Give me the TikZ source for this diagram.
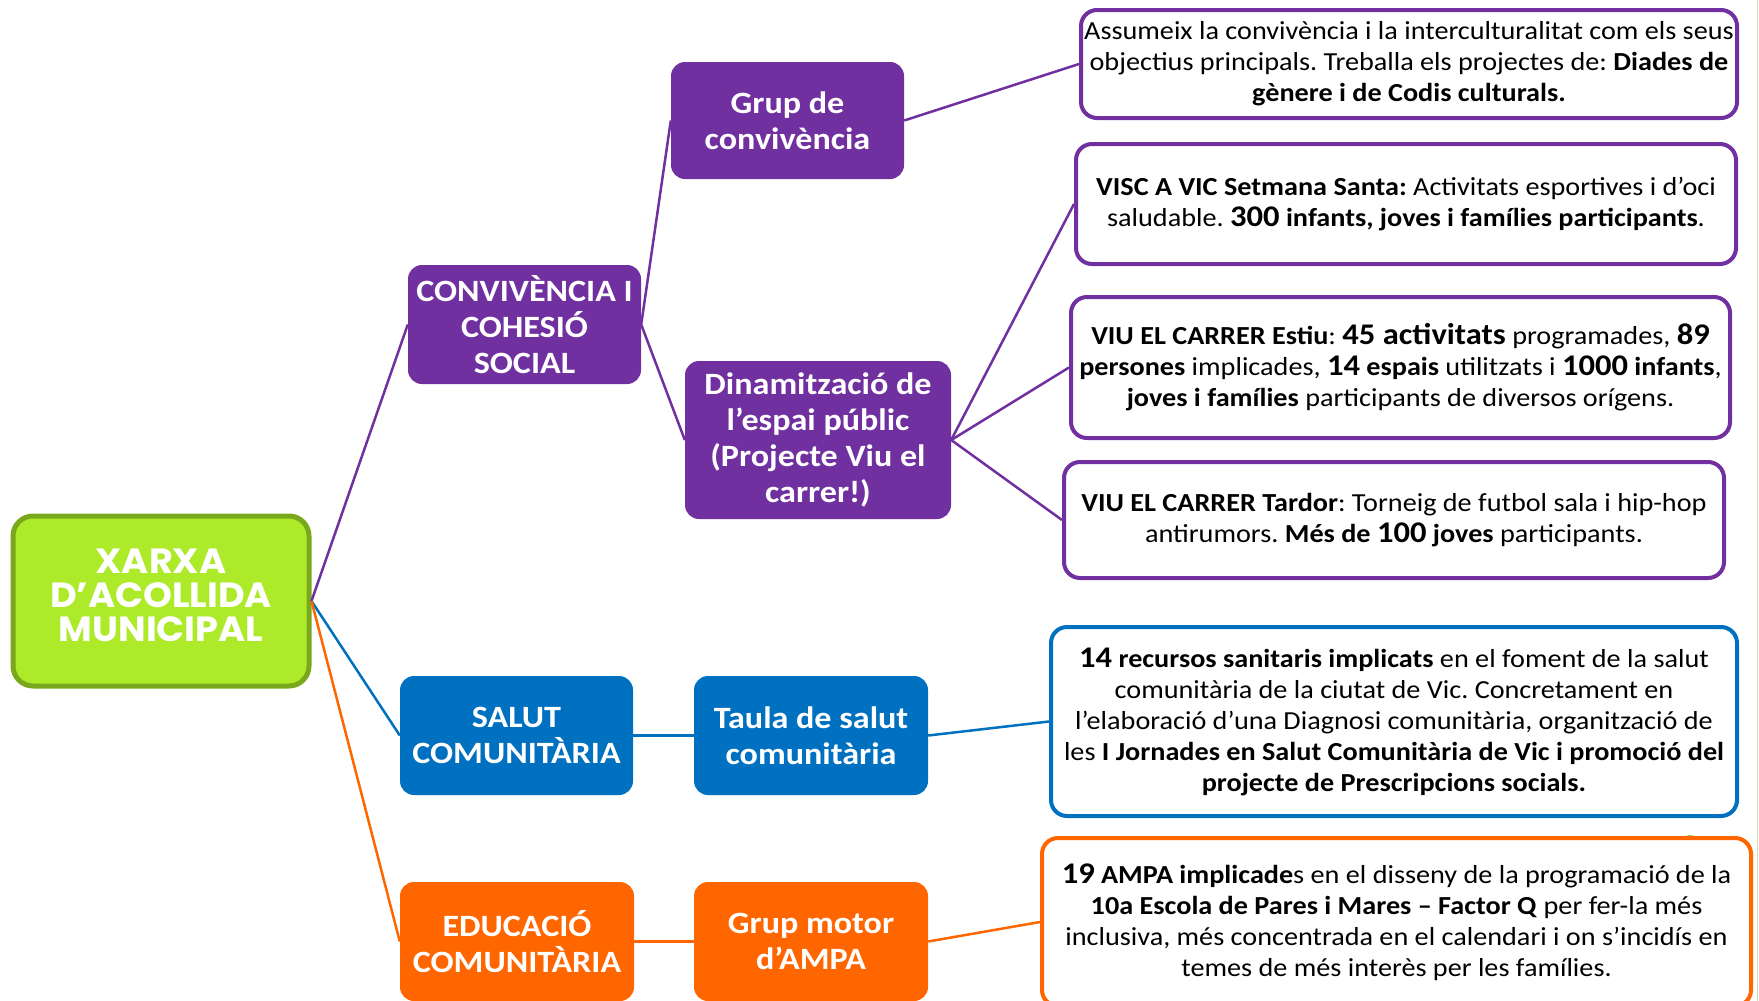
\documentclass[tikz,border=0pt]{standalone}
\usepackage{fontspec}
\setmainfont{Carlito}[FakeStretch=1.085]
\newfontfamily\catfont{Carlito}[FakeStretch=1.1]
\newfontfamily\rootfont{Poppins}[FakeStretch=1.05]
\definecolor{cpurple}{HTML}{7030A0}
\definecolor{cblue}{HTML}{0070C0}
\definecolor{corange}{HTML}{FF6600}
\definecolor{cgreen}{HTML}{ADEA2A}
\definecolor{cgreendark}{HTML}{7AA81C}
\definecolor{cpale}{HTML}{C8E2A8}
\definecolor{cbump}{HTML}{9ACD32}
\newcommand\bignum[1]{{\fontsize{30}{31}\selectfont #1}}
\tikzset{
  catbox/.style={rounded corners=14pt, fill=#1, text=white, align=center,
    inner sep=0pt, font=\catfont\bfseries\fontsize{31}{36}\selectfont},
  infobox/.style={draw=#1, line width=4pt, rounded corners=16pt, fill=white,
    text=black, align=center, inner sep=0pt, font=\fontsize{26}{31}\selectfont},
  link/.style={draw=#1, line width=2.5pt},
}
\begin{document}
\frenchspacing
\begin{tikzpicture}[x=1pt,y=-1pt]
\useasboundingbox (0,0) rectangle (1759,1001);
\clip (0,0) rectangle (1759,1001);
% stray background decorations
\draw[cpale, line width=1.5pt] (1757.5,0) -- (1757.5,1001);
\fill[cbump] (1690,846) circle (11);
% root
\node[rounded corners=20pt, fill=cgreen, draw=cgreendark, line width=5pt,
  minimum width=296pt, minimum height=170pt, inner sep=0pt, text=white, align=center]
  (root) at (161,601) {};
\node[text=white, align=center, inner sep=0pt,
  font=\rootfont\bfseries\fontsize{35}{34}\selectfont] (roottext) at (161,595)
  {XARXA\\D’ACOLLIDA\\MUNICIPAL};
% categories
\node[catbox=cpurple, minimum width=233pt, minimum height=119pt] (conv) at (524.5,324.5)
  {CONVIVÈNCIA I\\COHESIÓ\\SOCIAL};
\node[catbox=cpurple, minimum width=233pt, minimum height=117pt] (grup) at (787.5,120.5)
  {Grup de\\convivència};
\node[catbox=cpurple, minimum width=266pt, minimum height=158pt] (dina) at (818,440)
  {Dinamització de\\l’espai públic\\(Projecte Viu el\\carrer!)};
\node[catbox=cblue, minimum width=233pt, minimum height=119pt] (salut) at (516.5,735.5)
  {SALUT\\COMUNITÀRIA};
\node[catbox=cblue, minimum width=234pt, minimum height=119pt] (taula) at (811,735.5)
  {Taula de salut\\comunitària};
\node[catbox=corange, minimum width=234pt, minimum height=119pt] (educ) at (517,941.5)
  {EDUCACIÓ\\COMUNITÀRIA};
\node[catbox=corange, minimum width=234pt, minimum height=119pt] (motor) at (811,941.5)
  {Grup motor\\d’AMPA};
% info boxes
\node[infobox=cpurple, minimum width=656pt, minimum height=108pt] (ia) at (1409,64)
  {Assumeix la convivència i la interculturalitat com els seus\\
   objectius principals. Treballa els projectes de: \textbf{Diades de}\\
   \textbf{gènere i de Codis culturals.}};
\node[infobox=cpurple, minimum width=660pt, minimum height=120pt] (ib) at (1406,204)
  {\textbf{VISC A VIC Setmana Santa:} Activitats esportives i d’oci\\
   saludable. \textbf{\bignum{300} infants, joves i famílies participants}.};
\node[infobox=cpurple, minimum width=659pt, minimum height=141pt] (ic) at (1400.5,367.5)
  {\textbf{VIU EL CARRER Estiu}: \textbf{\bignum{45 activitats}} programades, \textbf{\bignum{89}}\\
   \textbf{persones} implicades, \textbf{\bignum{14} espais} utilitzats i \textbf{\bignum{1000} infants},\\
   \textbf{joves i famílies} participants de diversos orígens.};
\node[infobox=cpurple, minimum width=660pt, minimum height=116pt] (id) at (1394,520)
  {\textbf{VIU EL CARRER Tardor}: Torneig de futbol sala i hip-hop\\
   antirumors. \textbf{Més de \bignum{100} joves} participants.};
\node[infobox=cblue, minimum width=686pt, minimum height=189pt] (ie) at (1394,721.5)
  {\textbf{\bignum{14} recursos sanitaris implicats} en el foment de la salut\\
   comunitària de la ciutat de Vic. Concretament en\\
   l’elaboració d’una Diagnosi comunitària, organització de\\
   les \textbf{I Jornades en Salut Comunitària de Vic i promoció del}\\
   \textbf{projecte de Prescripcions socials.}};
\node[infobox=corange, minimum width=709pt, minimum height=168pt] (if) at (1396.5,922)
  {\textbf{\bignum{19} AMPA implicade}s en el disseny de la programació de la\\
   \textbf{10a Escola de Pares i Mares – Factor Q} per fer-la més\\
   inclusiva, més concentrada en el calendari i on s’incidís en\\
   temes de més interès per les famílies.};
% connectors
\draw[link=cpurple] (root.east) -- (conv.west);
\draw[link=cblue] (root.east) -- (salut.west);
\draw[link=corange] (root.east) -- (educ.west);
\draw[link=cpurple] (conv.east) -- (grup.west);
\draw[link=cpurple] (conv.east) -- (dina.west);
\draw[link=cpurple] (grup.east) -- (ia.west);
\draw[link=cpurple] (dina.east) -- (ib.west);
\draw[link=cpurple] (dina.east) -- (ic.west);
\draw[link=cpurple] (dina.east) -- (id.west);
\draw[link=cblue] (salut.east) -- (taula.west);
\draw[link=cblue] (taula.east) -- (ie.west);
\draw[link=corange] (educ.east) -- (motor.west);
\draw[link=corange] (motor.east) -- (if.west);
\end{tikzpicture}
\end{document}
